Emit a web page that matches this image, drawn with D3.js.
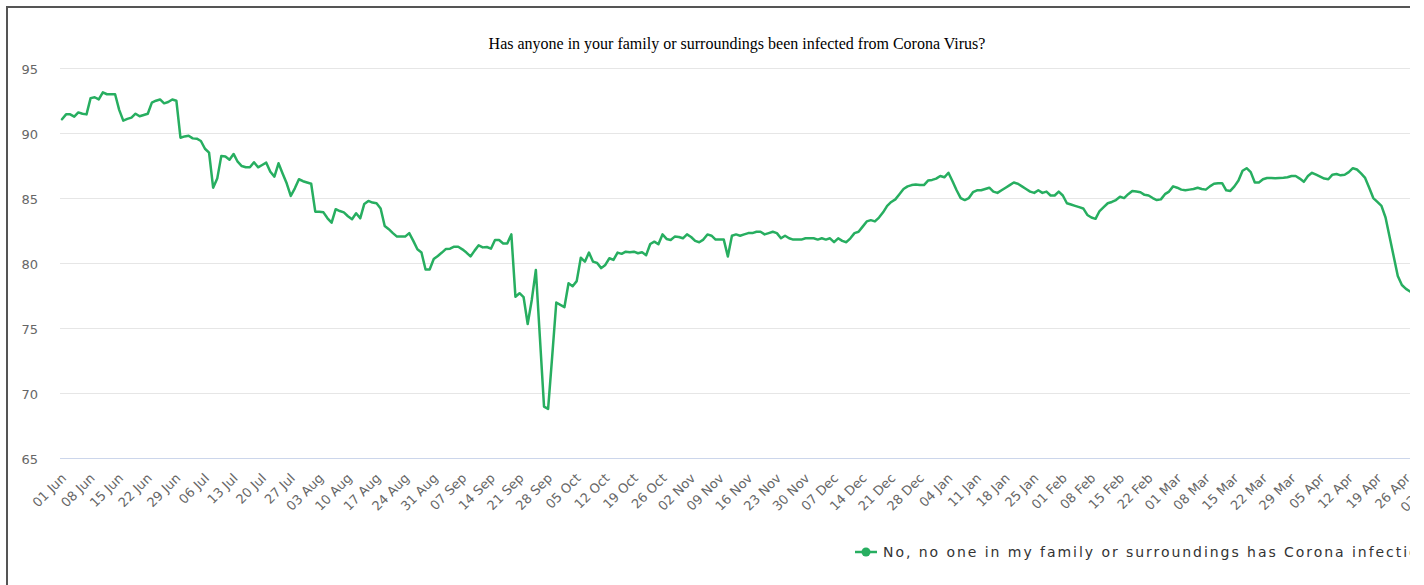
<!DOCTYPE html>
<html>
<head>
<meta charset="utf-8">
<script src="https://cdn.jsdelivr.net/npm/d3@7"></script>
<style>
  html, body { margin: 0; padding: 0; background: #fff; }
  #frame { position: absolute; left: 6px; top: 6px; width: 1402px; height: 600px;
           border-left: 2px solid #555; border-top: 2px solid #555; overflow: hidden; }
  svg { position: absolute; left: -8px; top: -8px; }
</style>
</head>
<body>
<div id="frame"></div>
<script>
const title = "Has anyone in your family or surroundings been infected from Corona Virus?";
const seriesName = "No, no one in my family or surroundings has Corona infection";
const startDate = new Date(2020, 5, 1);
const yTicks = [65, 70, 75, 80, 85, 90, 95];

const jun = [91.07,91.45,91.45,91.27,91.6,91.5,91.45,92.7,92.77,92.6,93.15,93.0,93.0,93.0,91.8,90.97,91.1,91.2,91.5,91.3,91.4,91.5,92.35,92.5,92.6,92.3,92.4,92.6,92.5,89.65];
const jul = [89.75,89.8,89.6,89.58,89.4,88.8,88.5,85.8,86.5,88.25,88.2,87.95,88.4,87.8,87.47,87.37,87.37,87.76,87.37,87.55,87.73,87.03,86.65,87.68,86.9,86.14,85.16,85.75,86.45,86.3,86.2];
const aug = [86.1,83.95,83.95,83.9,83.44,83.1,84.14,84.0,83.9,83.6,83.37,83.83,83.44,84.55,84.78,84.65,84.6,84.2,82.85,82.6,82.3,82.03,82.03,82.03,82.3,81.7,81.05,80.8,79.5,79.5,80.3];
const sep = [80.54,80.8,81.08,81.1,81.25,81.25,81.05,80.8,80.5,80.95,81.36,81.2,81.23,81.1,81.77,81.77,81.5,81.5,82.2,77.4,77.67,77.36,75.3,77.15,79.46,74.2,68.93,68.75,72.8,76.95];
const oct = [76.77,76.6,78.43,78.2,78.6,80.4,80.1,80.8,80.1,80.0,79.6,79.85,80.36,80.23,80.8,80.7,80.87,80.82,80.87,80.75,80.82,80.6,81.46,81.64,81.44,82.2,81.85,81.77,82.03,82.0,81.9];
const nov = [82.2,82.0,81.7,81.6,81.8,82.2,82.1,81.8,81.8,81.8,80.5,82.1,82.2,82.1,82.2,82.3,82.3,82.4,82.4,82.2,82.3,82.4,82.3,81.9,82.1,81.9,81.8,81.8,81.8,81.9];
const dec = [81.9,81.9,81.8,81.9,81.8,81.9,81.6,81.9,81.7,81.6,81.9,82.3,82.4,82.8,83.2,83.3,83.2,83.5,83.9,84.4,84.7,84.9,85.3,85.7,85.9,86.0,86.05,86.0,86.0,86.35,86.4];
const jan = [86.5,86.7,86.6,86.95,86.3,85.6,85.0,84.85,85.0,85.45,85.6,85.6,85.7,85.8,85.5,85.4,85.6,85.8,86.0,86.2,86.1,85.9,85.7,85.5,85.4,85.6,85.4,85.5,85.2,85.2,85.5];
const feb = [85.2,84.6,84.5,84.4,84.3,84.2,83.7,83.5,83.4,84.0,84.3,84.6,84.7,84.85,85.1,85.0,85.3,85.55,85.5,85.45,85.25,85.2,85.0,84.85,84.9,85.3,85.5,85.9];
const mar = [85.8,85.65,85.6,85.65,85.7,85.8,85.7,85.65,85.9,86.1,86.15,86.15,85.6,85.55,85.9,86.35,87.1,87.3,87.0,86.2,86.2,86.45,86.55,86.55,86.53,86.55,86.57,86.6,86.7,86.7,86.5];
const apr = [86.25,86.7,86.95,86.8,86.65,86.5,86.45,86.8,86.85,86.75,86.8,87.0,87.3,87.2,86.9,86.55,85.8,85.0,84.7,84.4,83.5,82.0,80.5,79.0,78.3,78.0,77.8];

const values = [].concat(jun, jul, aug, sep, oct, nov, dec, jan, feb, mar, apr);
const data = values.map((v, i) => ({ date: d3.timeDay.offset(startDate, i), value: v }));
const weekTicks = d3.range(0, values.length + 7, 7).map(i => d3.timeDay.offset(startDate, i));

const W = 1500, H = 620;
const svg = d3.select("#frame").append("svg").attr("width", W).attr("height", H)
  .style("font-family", "'DejaVu Sans', sans-serif");
const x = d3.scaleTime().domain([startDate, d3.timeDay.offset(startDate, 329)]).range([62, 62 + 329 * 4.085]);
const y = d3.scaleLinear().domain([65, 95]).range([457.6, 68.3]);

// grid
svg.append("g").selectAll("line").data(yTicks).join("line")
  .attr("x1", 60).attr("x2", W)
  .attr("y1", d => Math.round(y(d)) + 0.5).attr("y2", d => Math.round(y(d)) + 0.5)
  .attr("stroke", d => d === 65 ? "#ccd6eb" : "#e6e6e6").attr("stroke-width", 1);

// y labels
svg.append("g").selectAll("text").data(yTicks).join("text")
  .attr("x", 38).attr("y", d => y(d) + 6)
  .attr("text-anchor", "end").attr("fill", "#666").attr("font-size", 13)
  .text(d => d);

// x labels
const fmt = d3.timeFormat("%d %b");
svg.append("g").selectAll("text").data(weekTicks).join("text")
  .attr("transform", d => `translate(${x(d) + 5},${479}) rotate(-45)`)
  .attr("text-anchor", "end").attr("fill", "#666").attr("font-size", 13)
  .text(d => fmt(d));

// title
svg.append("text").attr("x", 737).attr("y", 49).attr("text-anchor", "middle")
  .attr("font-family", "'Liberation Serif', 'Times New Roman', serif").attr("font-size", 16)
  .attr("fill", "#000").text(title);

// line
const line = d3.line().x(d => x(d.date)).y(d => y(d.value));
svg.append("path").datum(data).attr("d", line)
  .attr("fill", "none").attr("stroke", "#27ae60").attr("stroke-width", 2.5)
  .attr("stroke-linejoin", "round").attr("stroke-linecap", "round");

// legend
const lg = svg.append("g").attr("transform", "translate(855,552)");
lg.append("line").attr("x1", 0).attr("x2", 22).attr("y1", 0).attr("y2", 0)
  .attr("stroke", "#27ae60").attr("stroke-width", 2.5);
lg.append("circle").attr("cx", 11).attr("cy", 0).attr("r", 4.5).attr("fill", "#27ae60");
lg.append("text").attr("x", 28).attr("y", 5).attr("fill", "#333").attr("font-size", 14)
  .style("letter-spacing", "1.95px").text(seriesName);
</script>
</body>
</html>
